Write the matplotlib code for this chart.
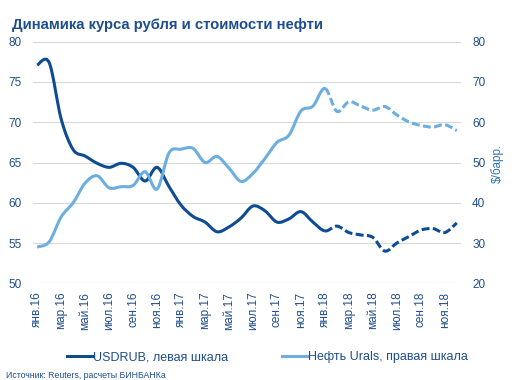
import matplotlib
matplotlib.use('Agg')
import matplotlib.pyplot as plt
from matplotlib.path import Path
from matplotlib.patches import PathPatch
from matplotlib.lines import Line2D

plt.rcParams['font.family'] = ['Liberation Sans', 'DejaVu Sans']

# monthly data, Jan 2016 - Dec 2018 (from Feb 2018 on - forecast, dashed)
month_names = ['янв', 'фев', 'мар', 'апр', 'май', 'июн',
               'июл', 'авг', 'сен', 'окт', 'ноя', 'дек']
years = ['16', '17', '18']
months = [m + '.' + y for y in years for m in month_names]

usdrub = [77.1, 77.4, 70.4, 66.6, 65.8, 64.9, 64.4, 64.9, 64.4, 62.7, 64.4, 62.0,
          59.7, 58.3, 57.6, 56.4, 57.0, 58.1, 59.6, 59.0, 57.6, 58.0, 58.9, 57.6,
          56.5, 57.1, 56.3, 56.0, 55.7, 54.0, 55.0, 55.8, 56.6, 56.8, 56.3, 57.5]

urals = [29.0, 30.3, 36.5, 40.0, 44.9, 46.7, 43.7, 44.0, 44.3, 47.7, 43.4, 52.4,
         53.3, 53.5, 50.0, 51.5, 48.6, 45.3, 47.3, 51.0, 55.0, 56.8, 62.8, 64.0,
         68.4, 62.7, 65.1, 64.0, 63.0, 63.9, 61.8, 60.1, 59.2, 58.8, 59.4, 57.9]

fact_end = 24  # last actual point (янв.18)

dark = '#0D4C92'
light = '#6CAEE0'
text_col = '#1F4E8C'


def smooth_path(xs, ys, a, b):
    # excel-like smoothed line through the points a..b
    n = len(xs)
    verts = [(xs[a], ys[a])]
    codes = [Path.MOVETO]
    for i in range(a, b):
        p0 = max(i - 1, 0)
        p3 = min(i + 2, n - 1)
        c1 = (xs[i] + (xs[i + 1] - xs[p0]) / 6, ys[i] + (ys[i + 1] - ys[p0]) / 6)
        c2 = (xs[i + 1] - (xs[p3] - xs[i]) / 6, ys[i + 1] - (ys[p3] - ys[i]) / 6)
        verts += [c1, c2, (xs[i + 1], ys[i + 1])]
        codes += [Path.CURVE4] * 3
    return Path(verts, codes)


fig = plt.figure(figsize=(5.19, 3.80), dpi=100)
ax = fig.add_axes([33 / 519, 1 - 283.3 / 380, (461 - 33) / 519, (283.3 - 41.7) / 380])
ax2 = ax.twinx()

x = list(range(len(months)))

for a, b, ls in [(0, fact_end, '-'), (fact_end, len(x) - 1, (0, (2.6, 1.1)))]:
    ax.add_patch(PathPatch(smooth_path(x, usdrub, a, b), facecolor='none',
                           edgecolor=dark, lw=2.2, linestyle=ls, joinstyle='round'))
    ax2.add_patch(PathPatch(smooth_path(x, urals, a, b), facecolor='none',
                            edgecolor=light, lw=2.2, linestyle=ls, joinstyle='round'))

ax.set_xlim(-0.35, 35.35)
ax.set_ylim(50, 80)
ax2.set_ylim(20, 80)
ax.set_yticks(range(50, 81, 5))
ax2.set_yticks(range(20, 81, 10))
ax.set_xticks(x[::2])
ax.set_xticklabels(months[::2], rotation=90)

ax.grid(axis='y', color='#D9D9D9', lw=0.8)
ax.set_axisbelow(True)
for a_ in (ax, ax2):
    for s in a_.spines.values():
        s.set_visible(False)
ax.tick_params(axis='y', length=0, pad=8, labelsize=8.5, labelcolor=text_col)
ax.tick_params(axis='x', length=0, pad=6, labelsize=8.5, labelcolor=text_col)
ax2.tick_params(axis='y', length=0, pad=8, labelsize=8.5, labelcolor=text_col)

fig.text(12 / 519, 1 - 25 / 380, 'Динамика курса рубля и стоимости нефти',
         fontsize=10.7, fontweight='bold', color=text_col, va='center')
fig.text(497 / 519, 1 - 163 / 380, '$/барр.', rotation=90, fontsize=8.5,
         color='#2E75B6', ha='center', va='center')
fig.text(6 / 519, 1 - 375 / 380, 'Источник: Reuters, расчеты БИНБАНКа',
         fontsize=6.3, color=text_col, va='center')

handles = [Line2D([], [], color=dark, lw=2.2), Line2D([], [], color=light, lw=2.2)]
fig.legend(handles, ['USDRUB, левая шкала', 'Нефть Urals, правая шкала'],
           loc='center', bbox_to_anchor=(0.515, 1 - 357 / 380), ncol=2, frameon=False,
           fontsize=9, handlelength=2.0, handletextpad=0.1, columnspacing=4.3,
           labelcolor=text_col)

fig.savefig('out.png', dpi=100)
